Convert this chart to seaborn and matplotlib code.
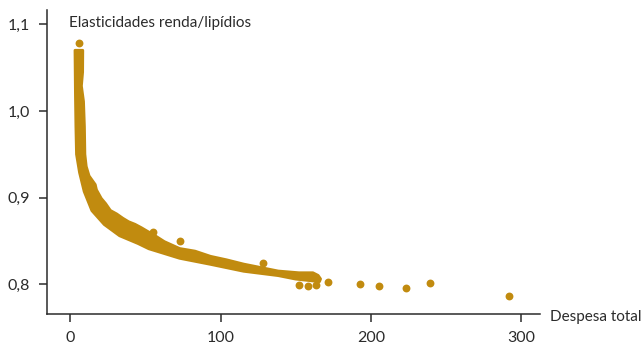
import matplotlib
matplotlib.use("Agg")
import matplotlib.pyplot as plt
import seaborn as sns
import pandas as pd

# Band of income elasticities (upper edge then lower edge of the cloud)
upper_x = [8.3, 8.2, 7.4, 8.8, 9.4, 9.7, 10.6, 12.5, 16.6, 17.4, 20.6, 23.5, 26.7, 30.9,
           35.0, 38.8, 43.1, 47.4, 51.3, 55.4, 62.6, 72.8, 83.0, 93.3, 103.9, 115.4,
           126.9, 138.3, 152.1, 161.4, 164.8, 166.4]
upper_y = [1.070, 1.045, 1.029, 1.011, 0.982, 0.950, 0.936, 0.925, 0.915, 0.909, 0.899,
           0.893, 0.885, 0.881, 0.876, 0.872, 0.869, 0.865, 0.861, 0.857, 0.849, 0.841,
           0.838, 0.832, 0.828, 0.823, 0.819, 0.815, 0.813, 0.813, 0.810, 0.806]
lower_x = [165.7, 149.9, 138.3, 115.4, 93.3, 72.8, 52.3, 45.2, 32.9, 22.7, 14.5, 9.4,
           6.3, 4.3, 3.9, 3.6, 3.3]
lower_y = [0.803, 0.806, 0.810, 0.815, 0.823, 0.830, 0.841, 0.847, 0.856, 0.869, 0.885,
           0.907, 0.929, 0.950, 0.982, 1.018, 1.070]

# isolated points
dot_x = [5.7, 54.8, 72.8, 128.0, 151.9, 158.1, 163.6, 171.7, 192.4, 205.5, 223.4, 239.5, 291.7]
dot_y = [1.078, 0.860, 0.850, 0.824, 0.799, 0.798, 0.799, 0.803, 0.800, 0.798, 0.796, 0.801, 0.786]

x_ticks = [0, 100, 200, 300]
y_ticks = [0.8, 0.9, 1.0, 1.1]

gold = "#C18B0F"
ink = "#2b2b2b"

sns.set_style("ticks")
plt.rcParams["font.family"] = ["Lato", "DejaVu Sans"]

fig = plt.figure(figsize=(6.43, 3.5), dpi=100)
ax = fig.add_axes([47 / 643, 36 / 350, 493 / 643, 304 / 350])

ax.fill(upper_x + lower_x, upper_y + lower_y, color=gold, lw=2.2, ec=gold,
        joinstyle="round")

dots = pd.DataFrame({"x": dot_x, "y": dot_y})
sns.scatterplot(data=dots, x="x", y="y", color=gold, s=32, edgecolor=gold,
                linewidth=0, ax=ax)

ax.set_xlim(-15.4, 312.4)
ax.set_ylim(0.7655, 1.1167)
ax.set_xticks(x_ticks)
ax.set_xticklabels([str(t) for t in x_ticks])
ax.set_yticks(y_ticks)
ax.set_yticklabels([f"{t:.1f}".replace(".", ",") for t in y_ticks])
ax.set_xlabel("")
ax.set_ylabel("")

for side in ["top", "right"]:
    ax.spines[side].set_visible(False)
for side in ["left", "bottom"]:
    ax.spines[side].set_color(ink)
    ax.spines[side].set_linewidth(1.1)

ax.tick_params(axis="both", colors=ink, labelcolor=ink, labelsize=11.5,
               length=5.5, width=1.1, pad=7)

fig.text(69 / 643, 1 - 27 / 350, "Elasticidades renda/lipídios", fontsize=11,
         color=ink, ha="left", va="baseline")
fig.text(550 / 643, 1 - 321 / 350, "Despesa total", fontsize=11,
         color=ink, ha="left", va="baseline")

fig.savefig("out.png", dpi=100)
